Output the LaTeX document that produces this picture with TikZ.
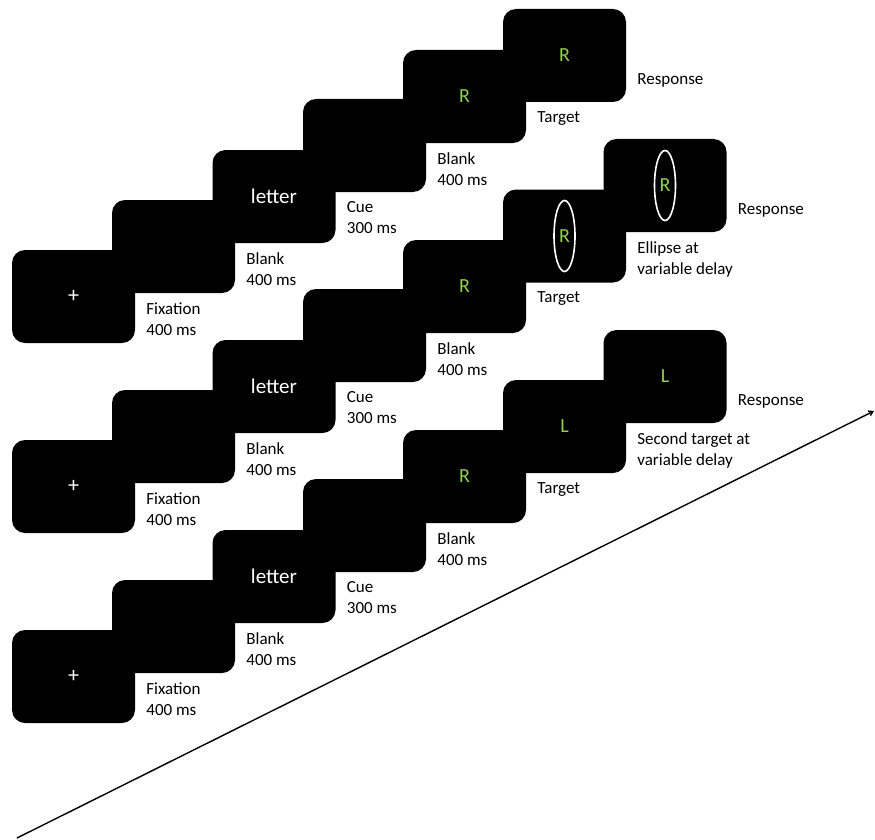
\documentclass[tikz,border=0pt]{standalone}
\usepackage{fontspec}
\setmainfont{Carlito}
\usetikzlibrary{calc,arrows.meta}
\definecolor{targetgreen}{RGB}{146,208,80}

\begin{document}
\begin{tikzpicture}[x=1pt,y=-1pt,
  screen/.style={rectangle,rounded corners=13pt,fill=black,
    minimum width=123pt,minimum height=93pt,inner sep=0pt},
  cuetext/.style={text=white,font=\fontsize{21}{25}\selectfont},
  fixtext/.style={text=white,font=\fontsize{22}{26}\selectfont},
  lettertext/.style={text=targetgreen,font=\fontsize{20}{24}\selectfont},
  lbl/.style={anchor=north west,align=left,inner sep=0pt,
    font=\fontsize{17}{21}\selectfont},
  ring/.style={draw=white,line width=1.6pt}]
\useasboundingbox (0,0) rectangle (875,840);
% Three trial rows, one below the other
\foreach \r/\dy in {1/0,2/190,3/380} {
  \node[screen,fixtext] (fix\r) at (73.5,296.5+\dy) {+};
  \node[screen] (blkA\r) at (173.5,246.5+\dy) {};
  \node[screen,cuetext] (cue\r) at (274,196.5+\dy) {letter};
  \node[screen] (blkB\r) at (364.5,145.5+\dy) {};
  \node[screen,lettertext] (tgt\r) at (464.5,96.5+\dy) {R};
  % Labels under the following screen
  \node[lbl] (lfix\r) at ($(fix\r.east |- blkA\r.south)+(11,9)$) {Fixation\\400 ms};
  \node[lbl] (lblkA\r) at ($(blkA\r.east |- cue\r.south)+(11,9)$) {Blank\\400 ms};
  \node[lbl] (lcue\r) at ($(cue\r.east |- blkB\r.south)+(11,9)$) {Cue\\300 ms};
  \node[lbl] (lblkB\r) at ($(blkB\r.east |- tgt\r.south)+(11,9)$) {Blank\\400 ms};
}
% Row 1 end
\node[screen,lettertext] (resp1) at (564.5,55.5) {R};
% Row 2 end
\node[screen,lettertext] (ell2) at (564.5,236) {R};
\draw[ring] (ell2.center) ellipse [x radius=10.5, y radius=35.5];
\node[screen,lettertext] (resp2) at (665,185.5) {R};
\draw[ring] (resp2.center) ellipse [x radius=10.5, y radius=35];
% Row 3 end
\node[screen,lettertext] (sec3) at (564.5,426.5) {L};
\node[screen,lettertext] (resp3) at (665,376.5) {L};
% Target and last labels
\node[lbl] (ltgt1) at ($(tgt1.east |- resp1.south)+(11,9)$) {Target};
\node[lbl] (ltgt2) at ($(tgt2.east |- ell2.south)+(11,9)$) {Target};
\node[lbl] (ltgt3) at ($(tgt3.east |- sec3.south)+(11,9)$) {Target};
\node[lbl] (lell2) at ($(ell2.east |- resp2.south)+(11,9)$) {Ellipse at\\variable delay};
\node[lbl] (lsec3) at ($(sec3.east |- resp3.south)+(11,9)$) {Second target at\\variable delay};
\foreach \r in {1,2,3}
  \node[lbl] (lresp\r) at ($(resp\r.east)+(11,17.5)$) {Response};
% Time axis
\coordinate (time0) at (17,838);
\coordinate (time1) at (874,411);
\draw[line width=1.4pt,-{Straight Barb[length=4pt,width=5pt]}] (time0) -- (time1);
\end{tikzpicture}
\end{document}
